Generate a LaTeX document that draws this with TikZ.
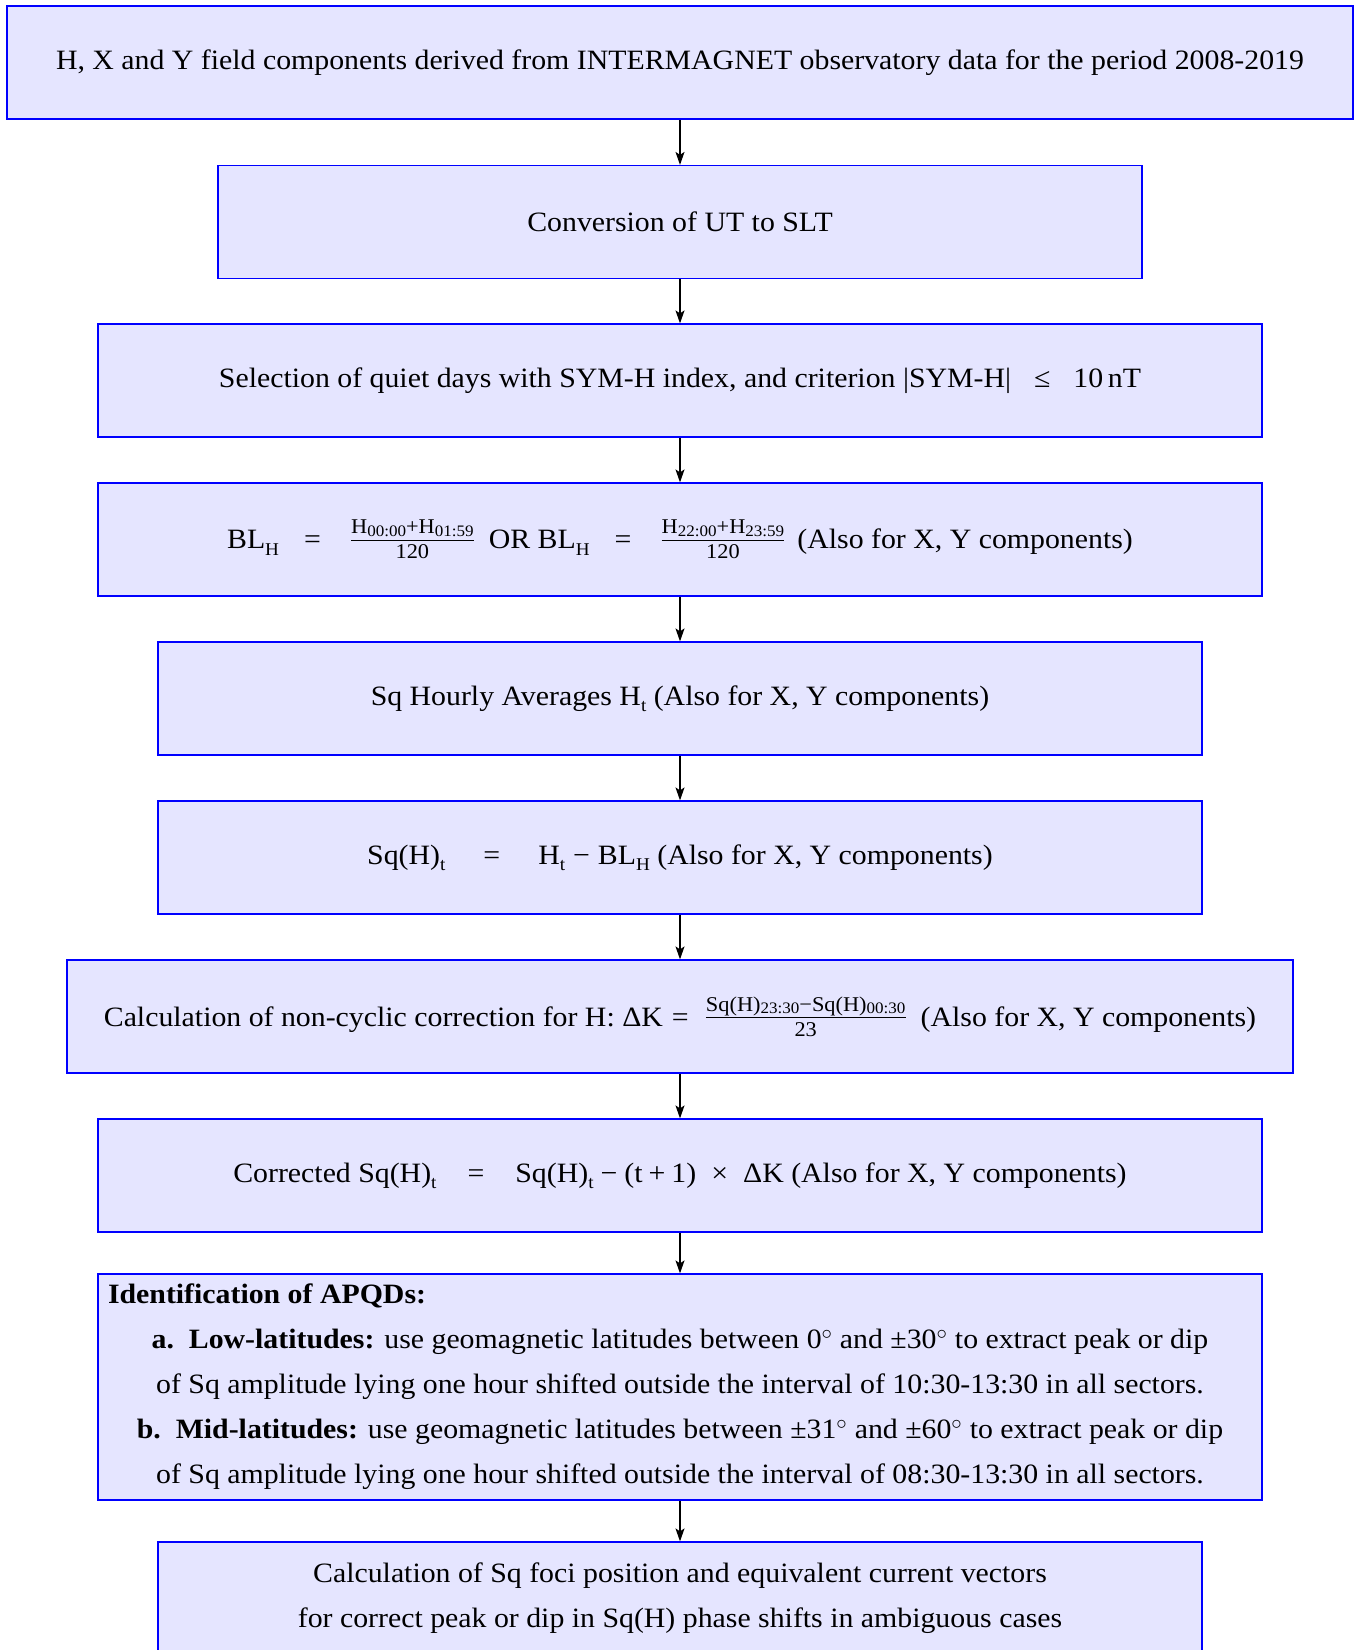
\documentclass[tikz,border=0pt]{standalone}
\usepackage{fontspec}
\setmainfont{Liberation Serif}[FakeStretch=1.065]
\usetikzlibrary{arrows.meta}
% lowered subscript in the main line
\newcommand{\lsub}[1]{\raisebox{-6.5pt}{\fontsize{18}{18}\selectfont #1}}
% subscript inside a fraction numerator
\newcommand{\nsub}[1]{\raisebox{-2.5pt}{\fontsize{16}{16}\selectfont #1}}
% hand-built fraction
\newcommand{\frc}[2]{{\fontsize{21}{21}\selectfont
 \setbox0\hbox{#1}\setbox2\hbox{#2}%
 \ifdim\wd0>\wd2 \dimen0=\wd0 \else \dimen0=\wd2 \fi
 \kern1.2pt\rlap{\raisebox{15pt}{\hbox to\dimen0{\hss\box0\hss}}}%
 \rlap{\rule[7.7pt]{\dimen0}{1.2pt}}%
 \raisebox{-10pt}{\hbox to\dimen0{\hss\box2\hss}}\kern1.2pt}}
\begin{document}
\begin{tikzpicture}[x=1pt,y=-1pt,
  box/.style={draw=blue, fill=blue!10, line width=1.2pt, minimum height=113pt,
    inner sep=0pt, align=center, font=\fontsize{28}{45}\selectfont},
  arr/.style={draw=black, line width=1.3pt, -{Stealth[length=13pt,width=9pt,inset=3pt]}}]
\useasboundingbox (0,0) rectangle (1359,1650);
\clip (0,0) rectangle (1359,1650);
\node[box, minimum width=1346pt] (b1) at (680,62.5) {H, X and Y field components derived from INTERMAGNET observatory data for the period 2008-2019};
\node[box, minimum width=924pt] (b2) at (680,222) {Conversion of UT to SLT};
\node[box, minimum width=1164pt] (b3) at (680,380.5) {Selection of quiet days with SYM-H index, and criterion |SYM-H|\hspace{23pt}≤\hspace{23pt}10\,nT};
\node[box, minimum width=1164pt] (b4) at (680,539.5) {BL\lsub{H}\hspace{25pt}=\hspace{29pt}\frc{H\nsub{00:00}+H\nsub{01:59}}{120}\hspace{14pt}OR BL\lsub{H}\hspace{25pt}=\hspace{29pt}\frc{H\nsub{22:00}+H\nsub{23:59}}{120}\hspace{12pt}(Also for X, Y components)};
\node[box, minimum width=1044pt] (b5) at (680,698.5) {Sq Hourly Averages H\lsub{t} (Also for X, Y components)};
\node[box, minimum width=1044pt] (b6) at (680,857.5) {Sq(H)\lsub{t}\hspace{38pt}=\hspace{38pt}H\lsub{t}\hspace{8pt}−\hspace{8pt}BL\lsub{H} (Also for X, Y components)};
\node[box, minimum width=1226pt] (b7) at (680,1016.5) {Calculation of non-cyclic correction for H: ΔK\hspace{9pt}=\hspace{16pt}\frc{Sq(H)\nsub{23:30}−Sq(H)\nsub{00:30}}{23}\hspace{14pt}(Also for X, Y components)};
\node[box, minimum width=1164pt] (b8) at (680,1175.5) {Corrected Sq(H)\lsub{t}\hspace{31pt}=\hspace{31pt}Sq(H)\lsub{t}\hspace{7pt}−\hspace{7pt}(t\hspace{6pt}+\hspace{6pt}1)\hspace{15pt}×\hspace{15pt}ΔK (Also for X, Y components)};
\node[box, minimum width=1164pt, minimum height=226pt] (b9) at (680,1387) {\begin{minipage}{1144pt}\fontsize{28}{45}\selectfont
\textbf{Identification of APQDs:}\par
\centering
\textbf{a.\ \ Low-latitudes:} use geomagnetic latitudes between 0$^\circ$ and ±30$^\circ$ to extract peak or dip\\
of Sq amplitude lying one hour shifted outside the interval of 10:30-13:30 in all sectors.\\
\textbf{b.\ \ Mid-latitudes:} use geomagnetic latitudes between ±31$^\circ$ and ±60$^\circ$ to extract peak or dip\\
of Sq amplitude lying one hour shifted outside the interval of 08:30-13:30 in all sectors.\par
\end{minipage}};
\node[box, minimum width=1044pt] (b10) at (680,1598.5) {Calculation of Sq foci position and equivalent current vectors\\ for correct peak or dip in Sq(H) phase shifts in ambiguous cases};
\draw[arr] (b1.south) -- (b2.north);
\draw[arr] (b2.south) -- (b3.north);
\draw[arr] (b3.south) -- (b4.north);
\draw[arr] (b4.south) -- (b5.north);
\draw[arr] (b5.south) -- (b6.north);
\draw[arr] (b6.south) -- (b7.north);
\draw[arr] (b7.south) -- (b8.north);
\draw[arr] (b8.south) -- (b9.north);
\draw[arr] (b9.south) -- (b10.north);
\end{tikzpicture}
\end{document}
